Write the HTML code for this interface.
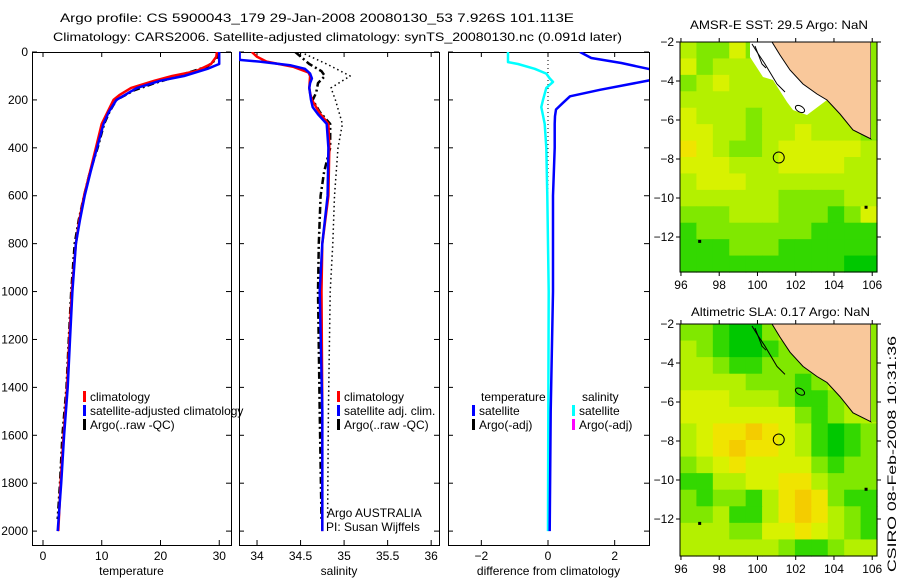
<!DOCTYPE html>
<html><head><meta charset="utf-8"><style>
html,body{margin:0;padding:0;background:#fff}
svg{display:block;font-family:"Liberation Sans",sans-serif}
text{font-size:12px;fill:#000}
</style></head><body>
<svg id="fig" width="900" height="580" viewBox="0 0 900 580" xmlns="http://www.w3.org/2000/svg">
<rect width="900" height="580" fill="#fff"/>
<text x="60" y="22" textLength="514" lengthAdjust="spacingAndGlyphs">Argo profile: CS 5900043_179 29-Jan-2008 20080130_53 7.926S 101.113E</text>
<text x="53" y="41" textLength="569" lengthAdjust="spacingAndGlyphs">Climatology: CARS2006. Satellite-adjusted climatology: synTS_20080130.nc (0.091d later)</text>
<g id="plots"></g>
<text x="690" y="29" textLength="178" lengthAdjust="spacingAndGlyphs">AMSR-E SST: 29.5 Argo: NaN</text>
<text x="691" y="316" textLength="179" lengthAdjust="spacingAndGlyphs">Altimetric SLA: 0.17 Argo: NaN</text>
<text transform="translate(896,572) rotate(-90)" textLength="236" lengthAdjust="spacingAndGlyphs">CSIRO 08-Feb-2008 10:31:36</text>
</svg>
<script>
// ---------- data ----------
const depthTicks=[0,200,400,600,800,1000,1200,1400,1600,1800,2000];
const tempTicks=[0,10,20,30];
const salTicks=[34,34.5,35,35.5,36];
const diffTicks=[-2,0,2];
const latTicks=[-2,-4,-6,-8,-10,-12];
const lonTicks=[96,98,100,102,104,106];

const tClimDepth=[0,20,50,80,100,120,150,180,200,250,300,400,500,600,700,800,1000,1200,1400,1600,1800,2000];
const tClimVal=[29.6,29.5,28.6,26,22,19,15,13,12,11,10,9,8,7,6.2,5.6,4.9,4.5,4.1,3.5,3.0,2.6];
const tSatDepth=[0,50,70,100,120,150,200,250,300,400,500,600,700,800,1000,1200,1400,1600,1800,2000];
const tSatVal=[30,30,28,24,20,16,12.5,11.2,10.3,9.2,8.1,7.1,6.3,5.6,5.0,4.6,4.2,3.6,3.1,2.5];
const tArgoDepth=[0,30,60,100,130,160,200,250,300,400,500,600,700,800,1000,1200,1400,1600,1800,1950];
const tArgoVal=[29.8,29.5,28,23,19,15.5,12.5,11.3,10.4,9.3,8.0,7.0,6.1,5.4,4.8,4.4,4.0,3.3,2.9,2.5];

const sClimDepth=[0,20,40,62,85,100,150,172,200,255,300,400,600,800,1000,1500,2000];
const sClimVal=[33.94,34.0,34.11,34.42,34.59,34.61,34.60,34.61,34.63,34.72,34.82,34.83,34.82,34.75,34.74,34.75,34.75];
const sSatDepth=[0,33,40,55,70,90,110,130,150,200,230,260,300,400,600,800,1000,1500,2000];
const sSatVal=[33.8,33.8,34.03,34.38,34.55,34.61,34.63,34.61,34.60,34.62,34.64,34.70,34.80,34.82,34.81,34.75,34.72,34.75,34.75];
const sArgoDepth=[0,50,80,100,130,170,200,250,300,400,500,600,800,1000,1500,1950];
const sArgoVal=[34.44,34.6,34.74,34.78,34.70,34.68,34.64,34.72,34.84,34.84,34.77,34.73,34.71,34.70,34.72,34.74];
const sRawDepth=[0,50,100,150,200,300,400,600,800,1000,1500,1950];
const sRawVal=[34.5,34.8,35.07,34.85,34.9,34.98,34.93,34.89,34.87,34.84,34.82,34.81];

const dSalDepth=[0,42,50,70,90,110,125,150,200,230,300,400,600,1000,1500,2000];
const dSalVal=[-1.2,-1.2,-0.9,-0.4,-0.05,0.05,0.15,-0.05,-0.15,-0.2,-0.1,-0.05,-0.02,0.02,0.01,0.0];
const dTempDepth=[0,25,46,73,90,100,117,158,185,212,240,268,300,400,600,1000,1500,2000];
const dTempVal=[0.96,1.3,2.2,3.1,3.5,3.6,3.1,1.56,0.66,0.45,0.24,0.21,0.2,0.2,0.15,0.15,0.08,0.05];

// map grids (12 cols x 14 rows, levels 0..6)
const sstGrid=["322423343333","423334333333","234333333333","333333333333","433323333332","443323343332","543223444443","444333444433","344433333333","333333222233","222333222124","122222221111","111222111111","111111111100"];
const slaGrid=["221002333333","321001233333","332112222333","333322212333","444333211233","444444421233","345565431012","345655431012","234544442122","113344553222","212213565211","223113565321","333224454321","333333211233"];

// ---------- helpers ----------
const NS="http://www.w3.org/2000/svg";
const root=document.getElementById('plots');
function mk(tag,attrs,parent){const e=document.createElementNS(NS,tag);for(const k in attrs)e.setAttribute(k,attrs[k]);(parent||root).appendChild(e);return e;}
const P={y0:52,y1:545,dmin:0,dmax:2058};
function yD(d){return P.y0+(d-P.dmin)/(P.dmax-P.dmin)*(P.y1-P.y0);}
function linScale(v0,v1,p0,p1){return v=>p0+(v-v0)/(v1-v0)*(p1-p0);}
const panels=[
 {name:'temperature',x0:32,x1:231,vmin:-1.87,vmax:32.0,ticks:tempTicks,label:'temperature'},
 {name:'salinity',x0:239,x1:439,vmin:33.793,vmax:36.09,ticks:salTicks,label:'salinity'},
 {name:'difference',x0:448,x1:649,vmin:-3.0,vmax:3.03,ticks:diffTicks,label:'difference from climatology'}
];
panels.forEach((p,i)=>{p.sx=linScale(p.vmin,p.vmax,p.x0,p.x1);
 const cp=mk('clipPath',{id:'clip'+i});mk('rect',{x:p.x0,y:P.y0,width:p.x1-p.x0,height:P.y1-P.y0},cp);});

function drawLine(pi,depths,vals,color,w,dash,name){
 const p=panels[pi];
 const pts=depths.map((d,k)=>p.sx(vals[k]).toFixed(1)+','+yD(d).toFixed(1)).join(' ');
 const el=mk('polyline',{points:pts,fill:'none',stroke:color,'stroke-width':w,'clip-path':'url(#clip'+pi+')','stroke-linejoin':'round'});
 if(dash)el.setAttribute('stroke-dasharray',dash);
 
 
}

panels.forEach((p,i)=>{
 const f=mk('rect',{x:p.x0+0.5,y:P.y0+0.5,width:p.x1-p.x0,height:P.y1-P.y0,fill:'none',stroke:'#000','stroke-width':1});
 
 
 p.ticks.forEach(t=>{const x=p.sx(t);
  mk('line',{x1:x,x2:x,y1:P.y1,y2:P.y1-5,stroke:'#000'});
  mk('line',{x1:x,x2:x,y1:P.y0,y2:P.y0+5,stroke:'#000'});
  const tx=mk('text',{x:x,y:P.y1+15,'text-anchor':'middle'});tx.textContent=(t<0?'\u2212':'')+Math.abs(t);
  
  
 });
 depthTicks.forEach(d=>{const y=yD(d);
  mk('line',{x1:p.x0,x2:p.x0+5,y1:y,y2:y,stroke:'#000'});
  mk('line',{x1:p.x1,x2:p.x1-5,y1:y,y2:y,stroke:'#000'});
  if(i===0){const tx=mk('text',{x:p.x0-4,y:y+4,'text-anchor':'end'});tx.textContent=d;
   
   }
 });
 const xl=mk('text',{x:(p.x0+p.x1)/2,y:575,'text-anchor':'middle'});xl.textContent=p.label;
 
 
});

drawLine(0,tArgoDepth,tArgoVal,'#000',2.5,'7,3,2,3','temp-argo-line');
drawLine(0,tClimDepth,tClimVal,'#f00',2.5,null,'temp-climatology-line');
drawLine(0,tSatDepth,tSatVal,'#00f',2.5,null,'temp-satellite-line');
drawLine(1,sRawDepth,sRawVal,'#000',1.5,'1.5,3','sal-argo-raw-line');
drawLine(1,sArgoDepth,sArgoVal,'#000',2.5,'7,3,2,3','sal-argo-line');
drawLine(1,sClimDepth,sClimVal,'#f00',2.5,null,'sal-climatology-line');
drawLine(1,sSatDepth,sSatVal,'#00f',2.5,null,'sal-satellite-line');
(function(){const x=panels[2].sx(0);const z=mk('line',{x1:x,x2:x,y1:P.y0,y2:yD(2000),stroke:'#000','stroke-width':1,'stroke-dasharray':'1,3'});
 
 })();
drawLine(2,dSalDepth,dSalVal,'#00ffff',2.5,null,'diff-salinity-satellite-line');
drawLine(2,dTempDepth,dTempVal,'#0000ff',2.5,null,'diff-temperature-satellite-line');

function legEntry(x,y,color,label,name){
 if(color){const m=mk('rect',{x:x,y:y-10,width:3,height:11,fill:color});
  
  }
 const t=mk('text',{x:x+7,y:y});t.textContent=label;
 
 
}
legEntry(83,401,'#f00','climatology','legend-temp-climatology');
legEntry(83,415,'#00f','satellite-adjusted climatology','legend-temp-satellite');
legEntry(83,429,'#000','Argo(..raw -QC)','legend-temp-argo');
legEntry(337,401,'#f00','climatology','legend-sal-climatology');
legEntry(337,415,'#00f','satellite adj. clim.','legend-sal-satellite');
legEntry(337,429,'#000','Argo(..raw -QC)','legend-sal-argo');
legEntry(474,401,null,'temperature','legend-diff-temperature-header');
legEntry(472,415,'#00f','satellite','legend-diff-temp-satellite');
legEntry(472,429,'#000','Argo(-adj)','legend-diff-temp-argo');
legEntry(575,401,null,'salinity','legend-diff-salinity-header');
legEntry(572,415,'#00ffff','satellite','legend-diff-sal-satellite');
legEntry(572,429,'#ff00ff','Argo(-adj)','legend-diff-sal-argo');
(function(){const a=mk('text',{x:327,y:517});a.textContent='Argo AUSTRALIA';
 
 const b=mk('text',{x:326,y:531});b.textContent='PI: Susan Wijffels';
 })();

// ---------- maps ----------
const colors={'0':'#00c800','1':'#33d800','2':'#80e800','3':'#b4f000','4':'#d8f200','5':'#f0e400','6':'#f4cc00','W':'#ffffff','L':'#f9c89b'};
function drawMap(grid,top,bottom,name,withWhite){
 const left=680,right=877;
 const lonS=linScale(95.95,106.25,left,right);
 const latS=linScale(-2,-2-(bottom-top)/19.5,top,bottom);
 const rows=grid.length,cols=grid[0].length;
 const cw=(right-left)/cols,ch=(bottom-top)/rows;
 grid.forEach((row,r)=>{for(let c=0;c<cols;c++){
  const cell=mk('rect',{x:(left+c*cw).toFixed(2),y:(top+r*ch).toFixed(2),width:(cw+0.6).toFixed(2),height:(ch+0.6).toFixed(2),fill:colors[row[c]]||colors['3']});
  
  
 }});
 const ox=left, oy=top, sx=(right-left)/197, sy=(bottom-top)/230;
 const pt=p=>(ox+p[0]*sx).toFixed(1)+','+(oy+p[1]*sy).toFixed(1);
 if(withWhite){
  const W=[[70,0],[70,15],[83,35],[93,38],[107,60],[113,68],[127,73],[147,58],[137,52],[123,42],[110,28],[100,13],[92,0]];
  const w=mk('polygon',{points:W.map(pt).join(' '),fill:'#fff'});
  
 }
 const L=[[92,0],[100,13],[110,28],[123,42],[137,52],[147,58],[160,72],[173,88],[187,95],[191,97],[191,0]];
 const land=mk('polygon',{points:L.map(pt).join(' '),fill:colors.L,stroke:'#000','stroke-width':1});
 
 
 const st=mk('rect',{x:ox+191*sx,y:oy,width:6*sx,height:97*sy,fill:'#8ce800'});
 
 mk('polyline',{points:[[72,2],[77,10],[85,22],[97,42],[105,50]].map(pt).join(' '),fill:'none',stroke:'#000'});
 mk('polyline',{points:[[75,4],[82,22],[86,26]].map(pt).join(' '),fill:'none',stroke:'#000'});
 mk('ellipse',{cx:ox+120*sx,cy:oy+67*sy,rx:5,ry:3,fill:'none',stroke:'#000',transform:`rotate(30 ${ox+120*sx} ${oy+67*sy})`});
 mk('rect',{x:lonS(105.6),y:latS(-10.5)-2,width:3,height:3,fill:'#000'});
 mk('rect',{x:lonS(96.9),y:latS(-12.2)-1,width:3,height:3,fill:'#000'});
 const circ=mk('circle',{cx:lonS(101.113),cy:latS(-7.926),r:5.5,fill:'none',stroke:'#000','stroke-width':1});
 
 
 const fr=mk('rect',{x:left,y:top,width:right-left,height:bottom-top,fill:'none',stroke:'#000'});
 
 latTicks.forEach(v=>{const y=latS(v);
  mk('line',{x1:left-4,x2:left,y1:y,y2:y,stroke:'#000'});
  mk('line',{x1:right,x2:right+4,y1:y,y2:y,stroke:'#000'});
  const t=mk('text',{x:left-6,y:y+4,'text-anchor':'end'});t.textContent='\u2212'+Math.abs(v);
  });
 lonTicks.forEach(v=>{const x=lonS(v);
  mk('line',{x1:x,x2:x,y1:bottom,y2:bottom+4,stroke:'#000'});
  mk('line',{x1:x,x2:x,y1:top,y2:top-4,stroke:'#000'});
  const t=mk('text',{x:x,y:bottom+17,'text-anchor':'middle'});t.textContent=v;
  });
}
drawMap(sstGrid,42,272,'sst-map',true);
drawMap(slaGrid,324,556,'sla-map',false);
</script>
</body></html>
